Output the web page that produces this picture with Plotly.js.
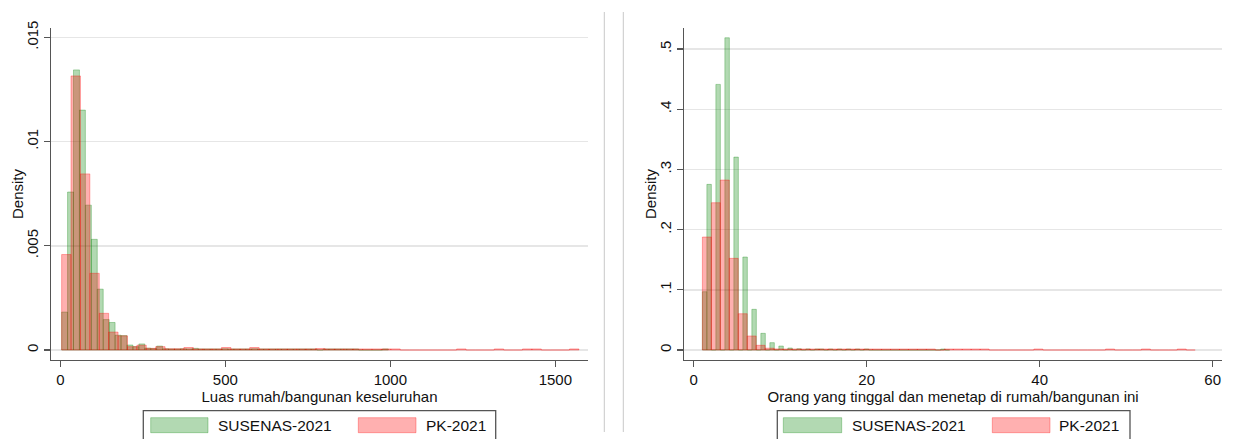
<!DOCTYPE html>
<html>
<head>
<meta charset="utf-8">
<script src="https://cdn.plot.ly/plotly-3.0.1.min.js"></script>
<style>html,body{margin:0;padding:0;background:#fff;}#chart{width:1234px;height:439px;}</style>
</head>
<body>
<div id="chart"></div>
<script>
// ---------- DATA ----------
// Left panel: Luas rumah/bangunan keseluruhan (histogram, density)
const seriesNames = ['SUSENAS-2021', 'PK-2021'];
const areaSusenasBinStart = 4;
const areaSusenasBinWidth = 18;
const areaSusenasDensity = [
  0.00182, 0.00758, 0.01344, 0.01151, 0.00695, 0.00531, 0.00292, 0.00146, 0.00132, 0.00071,
  0.00069, 0.00024, 0.00016, 0.00029, 0.00009, 0.00007, 0.00019, 0.00006, 0.00005, 0.00005,
  0.00006, 0.00005, 0.00008, 0.00005, 0.00005, 0.00005, 0.00005, 0.00006, 0.00005, 0.00005,
  0.00005, 0.00005, 0.00006, 0.00005, 0.00005, 0.00005, 0.00005, 0.00005, 0.00005, 0.00005,
  0.00005, 0.00005, 0.00005, 0, 0.00005, 0.00005, 0.00005, 0.00005, 0.00005, 0.00005,
  0, 0, 0, 0, 0.00005
];
const areaPkBinStart = 4;
const areaPkBinWidth = 28.5;
const areaPkDensity = [
  0.00458, 0.01315, 0.00845, 0.00368, 0.00176, 0.00086, 0.00068, 0.00016, 0.00023, 0.00008,
  0.00016, 0.00006, 0.00006, 0.00012, 0.00005, 0.00005, 0.00005, 0.00012, 0.00005, 0.00005,
  0.00012, 0.00005, 0.00005, 0.00005, 0.00005, 0.00005, 0.00005, 0.00007, 0.00005, 0.00005,
  0.00005, 0.00005, 0.00005, 0.00005, 0.00005, 0.00005, 0, 0, 0, 0,
  0, 0, 0.00005, 0, 0, 0, 0.00005, 0, 0, 0.00005,
  0.00005, 0, 0, 0, 0.00005
];
const areaTickVals = [0, 500, 1000, 1500];
const areaTickText = ['0', '500', '1000', '1500'];
const areaDensityTickVals = [0, 0.005, 0.01, 0.015];
const areaDensityTickText = ['0', '.005', '.01', '.015'];

// Right panel: Orang yang tinggal dan menetap di rumah/bangunan ini
const personsSusenasBinStart = 1;
const personsSusenasBinWidth = 0.52;
const personsSusenasDensity = [
  0.0969, 0.2752, 0, 0.4413, 0, 0.5188, 0, 0.3205, 0, 0.1545,
  0, 0.0676, 0, 0.0277, 0, 0.0122, 0, 0.0066, 0, 0.0033,
  0, 0.0021, 0, 0.0018, 0, 0.0017, 0.0017, 0, 0.0017, 0,
  0.0017, 0, 0.0017, 0, 0.0017, 0, 0.0017, 0, 0, 0,
  0, 0, 0, 0, 0, 0, 0, 0, 0, 0,
  0, 0, 0, 0.0017, 0
];
const personsPkBinStart = 1;
const personsPkBinWidth = 1.036;
const personsPkDensity = [
  0.1877, 0.2447, 0.2824, 0.1523, 0.0603, 0.0233, 0.0078, 0.0030, 0.0018, 0.0017,
  0.0017, 0.0017, 0.0017, 0.0017, 0.0017, 0.0017, 0.0017, 0.0017, 0.0017, 0.0017,
  0.0017, 0.0017, 0.0017, 0.0017, 0.0017, 0.0017, 0, 0.0017, 0.0017, 0.0017,
  0.0017, 0.0017, 0, 0, 0, 0, 0, 0.0017, 0, 0,
  0, 0, 0, 0, 0, 0.0017, 0, 0, 0, 0.0017,
  0, 0, 0, 0.0017, 0
];
const personsTickVals = [0, 20, 40, 60];
const personsTickText = ['0', '20', '40', '60'];
const personsDensityTickVals = [0, 0.1, 0.2, 0.3, 0.4, 0.5];
const personsDensityTickText = ['0', '.1', '.2', '.3', '.4', '.5'];

const xTitleLeft = 'Luas rumah/bangunan keseluruhan';
const xTitleRight = 'Orang yang tinggal dan menetap di rumah/bangunan ini';
const yTitle = 'Density';

// ---------- STYLE ----------
const W = 1234, H = 439;
const GREEN_FILL = 'rgba(0,128,0,0.30)';
const GREEN_LINE = 'rgba(0,128,0,0.30)';
const RED_FILL = 'rgba(255,0,0,0.31)';
const RED_LINE = 'rgba(255,0,0,0.31)';
const AX = '#555555';
const GRID = '#e6e6e6';
const FONT = 'Liberation Sans, Arial, Helvetica, sans-serif';
const px = v => v / W;
const py = v => 1 - v / H;

function centers(start, width, arr) {
  return arr.map((_, i) => start + width * (i + 0.5));
}
function barTrace(start, width, dens, name, fill, line, xa, ya) {
  return {
    type: 'bar', name: name,
    x: centers(start, width, dens), y: dens, width: width,
    marker: {color: fill, line: {color: line, width: 1}},
    xaxis: xa, yaxis: ya, showlegend: false, hoverinfo: 'x+y'
  };
}

const traces = [
  barTrace(areaSusenasBinStart, areaSusenasBinWidth, areaSusenasDensity, seriesNames[0], GREEN_FILL, GREEN_LINE, 'x', 'y'),
  barTrace(areaPkBinStart, areaPkBinWidth, areaPkDensity, seriesNames[1], RED_FILL, RED_LINE, 'x', 'y'),
  barTrace(personsSusenasBinStart, personsSusenasBinWidth, personsSusenasDensity, seriesNames[0], GREEN_FILL, GREEN_LINE, 'x2', 'y2'),
  barTrace(personsPkBinStart, personsPkBinWidth, personsPkDensity, seriesNames[1], RED_FILL, RED_LINE, 'x2', 'y2')
];

function xAxis(domain, range, vals, text, title, anchor) {
  return {
    domain: domain, range: range, anchor: anchor,
    tickmode: 'array', tickvals: vals, ticktext: text,
    ticks: 'outside', ticklen: 6, tickwidth: 1.3, tickcolor: AX,
    showline: true, linecolor: AX, linewidth: 1.3, mirror: false,
    showgrid: false, zeroline: false,
    tickfont: {family: FONT, size: 15, color: '#111'},
    title: {text: title, standoff: 0, font: {family: FONT, size: 15, color: '#111'}}
  };
}
function yAxis(domain, range, vals, text, anchor) {
  return {
    domain: domain, range: range, anchor: anchor,
    tickmode: 'array', tickvals: vals, ticktext: text, tickangle: -90,
    ticks: 'outside', ticklen: 6, tickwidth: 1.3, tickcolor: AX,
    showline: true, linecolor: AX, linewidth: 1.3,
    showgrid: true, gridcolor: GRID, gridwidth: 1.5,
    zeroline: false,
    tickfont: {family: FONT, size: 15, color: '#111'}
  };
}

const yDom = [py(360), py(28)];
const layout = {
  width: W, height: H,
  margin: {l: 0, r: 0, t: 0, b: 0},
  paper_bgcolor: '#ffffff', plot_bgcolor: '#ffffff',
  barmode: 'overlay', bargap: 0, showlegend: false,
  font: {family: FONT, size: 15, color: '#111'},
  xaxis: xAxis([px(51), px(588)], [-28.2, 1599], areaTickVals, areaTickText, xTitleLeft, 'y'),
  yaxis: yAxis(yDom, [-0.00048, 0.01545], areaDensityTickVals, areaDensityTickText, 'x'),
  xaxis2: xAxis([px(684.3), px(1222)], [-1.09, 61.08], personsTickVals, personsTickText, xTitleRight, 'y2'),
  yaxis2: yAxis(yDom, [-0.0166, 0.535], personsDensityTickVals, personsDensityTickText, 'x2'),
  shapes: [],
  annotations: []
};

// y-axis titles
[17, 650].forEach(xv => layout.annotations.push({
  xref: 'paper', yref: 'paper', x: px(xv), y: py(194), xanchor: 'center', yanchor: 'middle',
  text: yTitle, textangle: -90, showarrow: false, font: {family: FONT, size: 15, color: '#111'}
}));

// panel separators
[604.3, 623.3].forEach(xv => layout.shapes.push({
  type: 'line', xref: 'paper', yref: 'paper', x0: px(xv), x1: px(xv), y0: py(12), y1: py(432),
  line: {color: '#c8c8c8', width: 1}
}));

// legends (drawn as boxes with swatches)
function legend(boxL, boxR, gS, rS, gT, rT) {
  layout.shapes.push({type: 'rect', xref: 'paper', yref: 'paper', x0: px(boxL), x1: px(boxR), y0: py(410.7), y1: py(470),
    line: {color: AX, width: 1.3}, fillcolor: 'rgba(255,255,255,1)'});
  layout.shapes.push({type: 'rect', xref: 'paper', yref: 'paper', x0: px(gS[0]), x1: px(gS[1]), y0: py(417.7), y1: py(432.7),
    line: {color: GREEN_LINE, width: 1}, fillcolor: GREEN_FILL});
  layout.shapes.push({type: 'rect', xref: 'paper', yref: 'paper', x0: px(rS[0]), x1: px(rS[1]), y0: py(417.7), y1: py(432.7),
    line: {color: RED_LINE, width: 1}, fillcolor: RED_FILL});
  layout.annotations.push({xref: 'paper', yref: 'paper', x: px(gT), y: py(425.5), xanchor: 'left', yanchor: 'middle',
    text: seriesNames[0], showarrow: false, font: {family: FONT, size: 15.5, color: '#111'}});
  layout.annotations.push({xref: 'paper', yref: 'paper', x: px(rT), y: py(425.5), xanchor: 'left', yanchor: 'middle',
    text: seriesNames[1], showarrow: false, font: {family: FONT, size: 15.5, color: '#111'}});
}
legend(143.3, 495.7, [150.7, 208], [358.3, 416], 215.5, 424);
legend(777.3, 1130, [783.3, 841.7], [992.3, 1050], 849.5, 1057);

Plotly.newPlot('chart', traces, layout, {staticPlot: true, displayModeBar: false});
</script>
</body>
</html>
